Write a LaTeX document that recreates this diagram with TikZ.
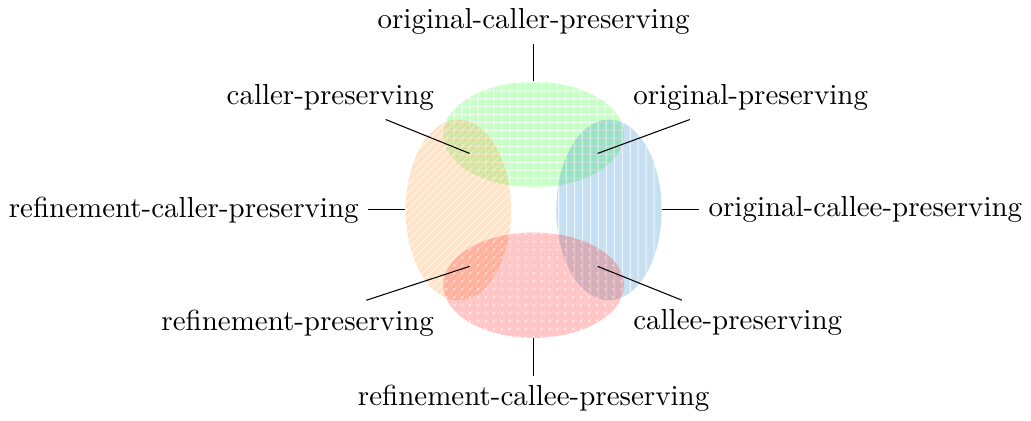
\documentclass[tikz,border=0pt]{standalone}
\usepackage{xcolor}
\usetikzlibrary{shapes.geometric,patterns}

\definecolor{skyblue}{RGB}{0,114,189}

\begin{document}
\begin{tikzpicture}[
  every node/.style={font=\fontsize{10.95}{13.6}\selectfont},
  wideset/.style={ellipse, inner sep=0pt, minimum width=2.4cm, minimum height=1.4cm},
  tallset/.style={ellipse, inner sep=0pt, minimum width=1.4cm, minimum height=2.4cm},
  setfill/.style 2 args={fill=#1,
    postaction={pattern=#2, pattern color=#1!35}},
  setlayer/.style={transparency group, opacity=0.22}
]

% SETS
\begin{scope}[setlayer]
  \node[wideset, setfill={green}{grid}] (origcaller) at (0,1) {};
\end{scope}
\begin{scope}[setlayer]
  \node[tallset, setfill={orange}{north east lines}] (refcaller) at (-1,0) {};
\end{scope}
\begin{scope}[setlayer]
  \node[tallset, setfill={skyblue}{vertical lines}] (origcallee) at (1,0) {};
\end{scope}
\begin{scope}[setlayer]
  \node[wideset, setfill={red}{dots}] (refcallee) at (0,-1) {};
\end{scope}

% OVERLAPS
\coordinate (callerpt) at (-0.85,0.75);
\coordinate (origpt) at (0.85,0.75);
\coordinate (refpt) at (-0.85,-0.75);
\coordinate (calleept) at (0.85,-0.75);

% LABELS
\node[anchor=south] (origcallerlbl) at (0,2.2) {original-caller-preserving};
\node[anchor=east] (refcallerlbl) at (-2.2,0) {refinement-caller-preserving};
\node[anchor=west] (origcalleelbl) at (2.2,0) {original-callee-preserving};
\node[anchor=north] (refcalleelbl) at (0,-2.2) {refinement-callee-preserving};

\node[anchor=south east] (callerlbl) at (-1.2,1.2) {caller-preserving};
\node[anchor=south west] (origlbl) at (1.2,1.2) {original-preserving};
\node[anchor=north east] (reflbl) at (-1.2,-1.2) {refinement-preserving};
\node[anchor=north west] (calleelbl) at (1.2,-1.2) {callee-preserving};

\draw (origcaller) -- (origcallerlbl);
\draw (refcaller) -- (refcallerlbl);
\draw (origcallee) -- (origcalleelbl);
\draw (refcallee) -- (refcalleelbl);

\draw (callerpt) -- (callerlbl);
\draw (origpt) -- (origlbl);
\draw (refpt) -- (reflbl);
\draw (calleept) -- (calleelbl);

\end{tikzpicture}
\end{document}
